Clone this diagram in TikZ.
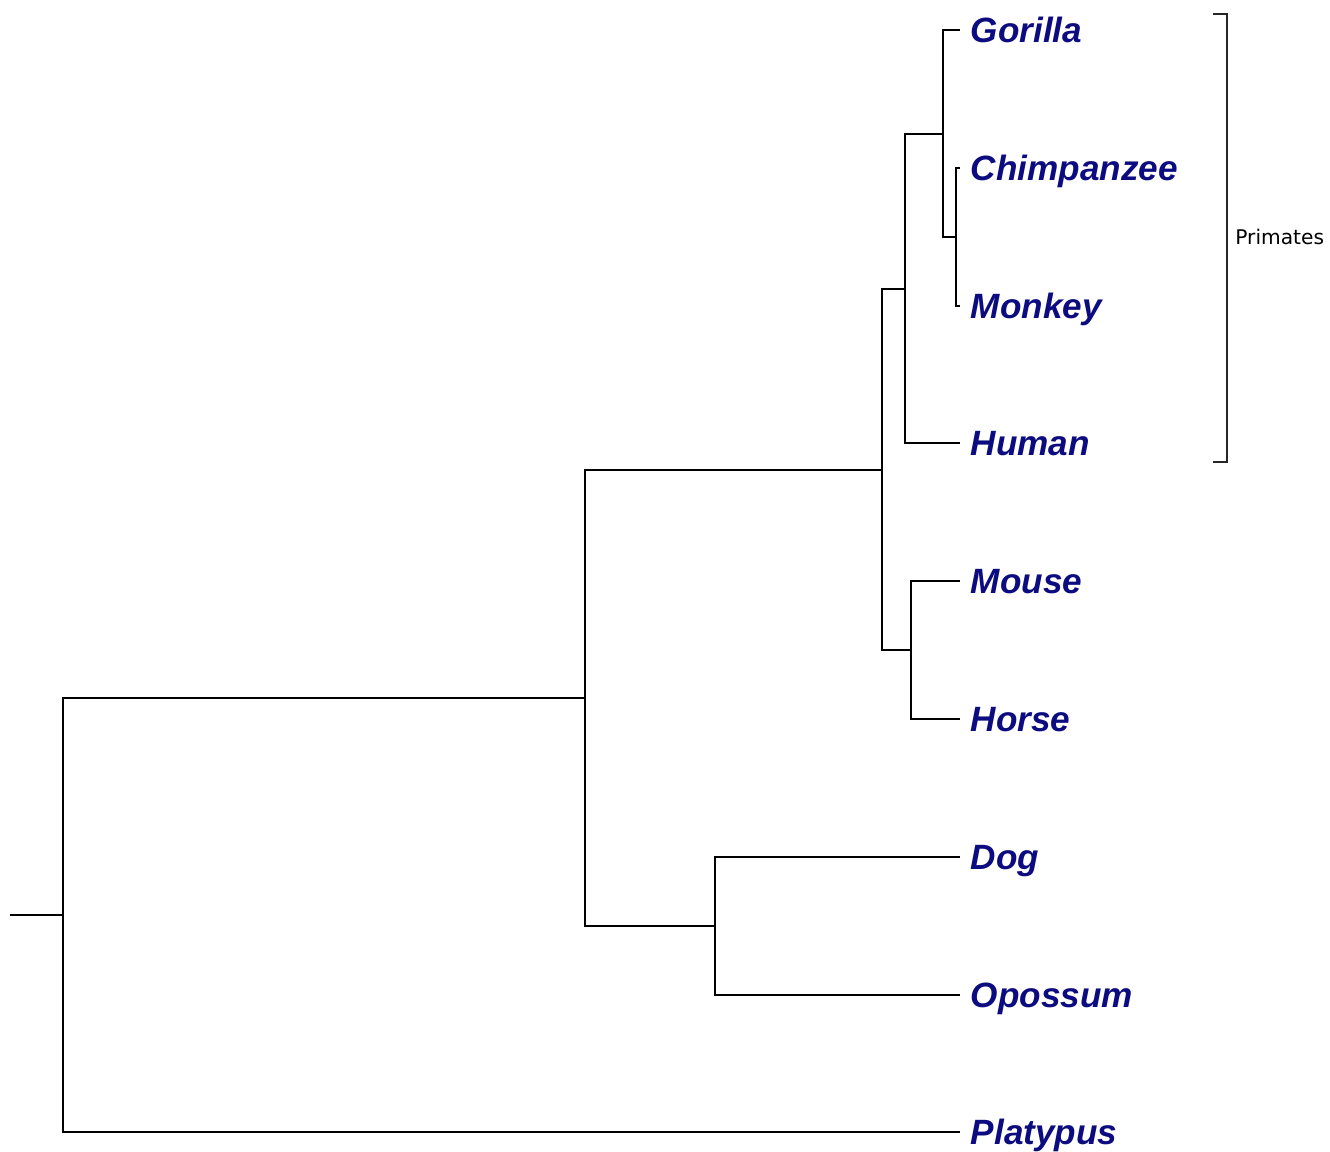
\documentclass[tikz,border=0pt]{standalone}
\usepackage{fontspec}
\setmainfont{Liberation Sans}
\newfontfamily\bracketfont{DejaVu Sans}
\usepackage{xcolor}
\usetikzlibrary{positioning,calc}
\definecolor{taxon}{RGB}{12,12,128}

\begin{document}
\begin{tikzpicture}[
  x=0.02cm, y=-0.02cm,
  leaf/.style={anchor=west, inner xsep=6pt, inner ysep=0pt, text=taxon,
    text height=14pt, text depth=0pt,
    font=\fontsize{20}{24}\selectfont\bfseries\itshape},
  branch/.style={line width=1.1pt, black},
  clade/.style={line width=0.8pt, black!85},
  cladename/.style={anchor=west, inner sep=0pt,
    font=\bracketfont\fontsize{11.5}{14}\selectfont},
]
\useasboundingbox (0,0) rectangle (1330,1152);

% LEAVES
\node[leaf] (gorilla) at (960,30) {Gorilla};
\node[leaf] (chimp) at (960,168) {Chimpanzee};
\node[leaf] (monkey) at (960,306) {Monkey};
\node[leaf] (human) at (960,443) {Human};
\node[leaf] (mouse) at (960,581) {Mouse};
\node[leaf] (horse) at (960,719) {Horse};
\node[leaf] (dog) at (960,857) {Dog};
\node[leaf] (opossum) at (960,995) {Opossum};
\node[leaf] (platypus) at (960,1132) {Platypus};

% INTERNAL NODES
\coordinate (cm) at (956,237);
\coordinate (gcm) at (943,134);
\coordinate (ape) at (905,289);
\coordinate (mh) at (911,650);
\coordinate (mammal) at (882,470);
\coordinate (dop) at (715,926);
\coordinate (ther) at (585,698);
\coordinate (root) at (63,915);
\coordinate (stub) at (10,915);

% BRANCHES
\draw[branch] (cm) |- (chimp.west);
\draw[branch] (cm) |- (monkey.west);
\draw[branch] (gcm) |- (gorilla.west);
\draw[branch] (gcm) |- (cm);
\draw[branch] (ape) |- (gcm);
\draw[branch] (ape) |- (human.west);
\draw[branch] (mh) |- (mouse.west);
\draw[branch] (mh) |- (horse.west);
\draw[branch] (mammal) |- (ape);
\draw[branch] (mammal) |- (mh);
\draw[branch] (dop) |- (dog.west);
\draw[branch] (dop) |- (opossum.west);
\draw[branch] (ther) |- (mammal);
\draw[branch] (ther) |- (dop);
\draw[branch] (root) |- (ther);
\draw[branch] (root) |- (platypus.west);
\draw[branch] (stub) -- (root);

% PRIMATES BRACKET
\coordinate (brtop) at (1213,14);
\coordinate (brbot) at (1213,462);
\draw[clade] (brtop) -- ++(14,0) |- (brbot);
\node[cladename] (primates) at (1235,237) {Primates};
\end{tikzpicture}
\end{document}
